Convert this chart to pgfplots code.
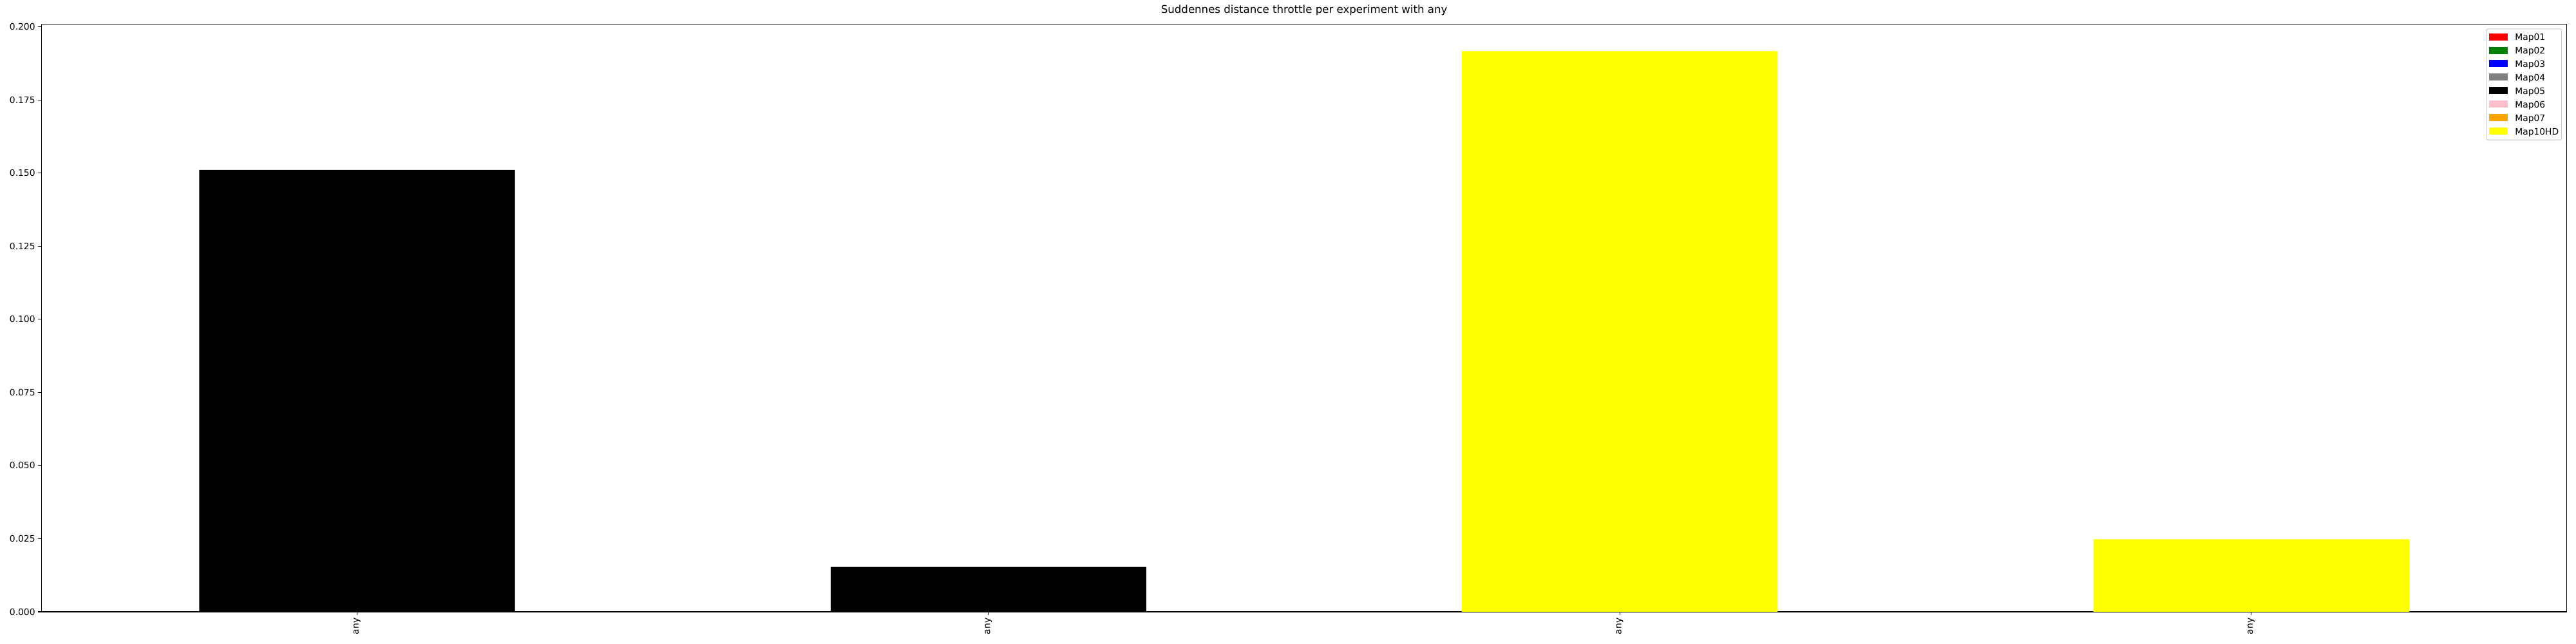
\documentclass[border=0pt]{standalone}
\usepackage{fontspec}
\setmainfont{DejaVu Sans}
\usepackage{pgfplots}
\pgfplotsset{compat=1.18}
\definecolor{mplgreen}{RGB}{0,128,0}
\definecolor{mplgray}{RGB}{128,128,128}
\definecolor{mplpink}{RGB}{255,192,203}
\definecolor{mplorange}{RGB}{255,165,0}
\definecolor{mplyellow}{RGB}{255,255,0}
\definecolor{legframe}{RGB}{204,204,204}
\begin{document}
\begin{tikzpicture}
\begin{axis}[
  at={(0,0)}, anchor=south west,
  scale only axis,
  width=2834.2pt, height=659.3pt,
  xmin=-0.5, xmax=3.5, ymin=0, ymax=0.2009,
  axis line style={line width=0.8pt, black},
  tick style={line width=0.8pt, black},
  tick align=outside,
  tick pos=left,
  major tick length=3.5pt,
  xtick={0,1,2,3},
  xticklabels={any,any,any,any},
  xticklabel style={rotate=90, anchor=east},
  ytick={0,0.025,0.05,0.075,0.1,0.125,0.15,0.175,0.2},
  scaled y ticks=false,
  yticklabel style={/pgf/number format/.cd, fixed, fixed zerofill, precision=3, assume math mode=true},
  tick label style={font=\fontsize{10}{12}\selectfont},
  title={Suddennes distance throttle per experiment with any},
  title style={at={(0.5,1)}, anchor=base, yshift=6.3pt, font=\fontsize{12}{14}\selectfont},
  legend image code/.code={\fill[#1, sharp corners] (0pt,0pt) rectangle (20.96pt,7.95pt);},
  legend style={at={(1,1)}, anchor=north east, xshift=-5.56pt, yshift=-4.77pt,
    draw=legframe, line width=0.8pt, rounded corners=2pt, fill=white,
    inner xsep=3.2pt, inner ysep=1.72pt, row sep=0pt, column sep=8.2pt,
    nodes={inner xsep=0pt, inner ysep=0pt, text height=11.07pt, text depth=4.07pt, anchor=base west},
    font=\fontsize{10}{12}\selectfont},
]
\addplot[ybar, bar width=0.5, bar shift=0pt, fill=black, draw=none, forget plot]
  coordinates {(0,0.1511) (1,0.0154)};
\addplot[ybar, bar width=0.5, bar shift=0pt, fill=mplyellow, draw=none, forget plot]
  coordinates {(2,0.1917) (3,0.0248)};
\addlegendimage{fill=red, draw=none}
\addlegendentry{Map01}
\addlegendimage{fill=mplgreen, draw=none}
\addlegendentry{Map02}
\addlegendimage{fill=blue, draw=none}
\addlegendentry{Map03}
\addlegendimage{fill=mplgray, draw=none}
\addlegendentry{Map04}
\addlegendimage{fill=black, draw=none}
\addlegendentry{Map05}
\addlegendimage{fill=mplpink, draw=none}
\addlegendentry{Map06}
\addlegendimage{fill=mplorange, draw=none}
\addlegendentry{Map07}
\addlegendimage{fill=mplyellow, draw=none}
\addlegendentry{Map10HD}
\end{axis}
\pgfresetboundingbox
\path[use as bounding box] (-46.47pt,-36.14pt) rectangle (2844.4pt,686.57pt);
\end{tikzpicture}
\end{document}
